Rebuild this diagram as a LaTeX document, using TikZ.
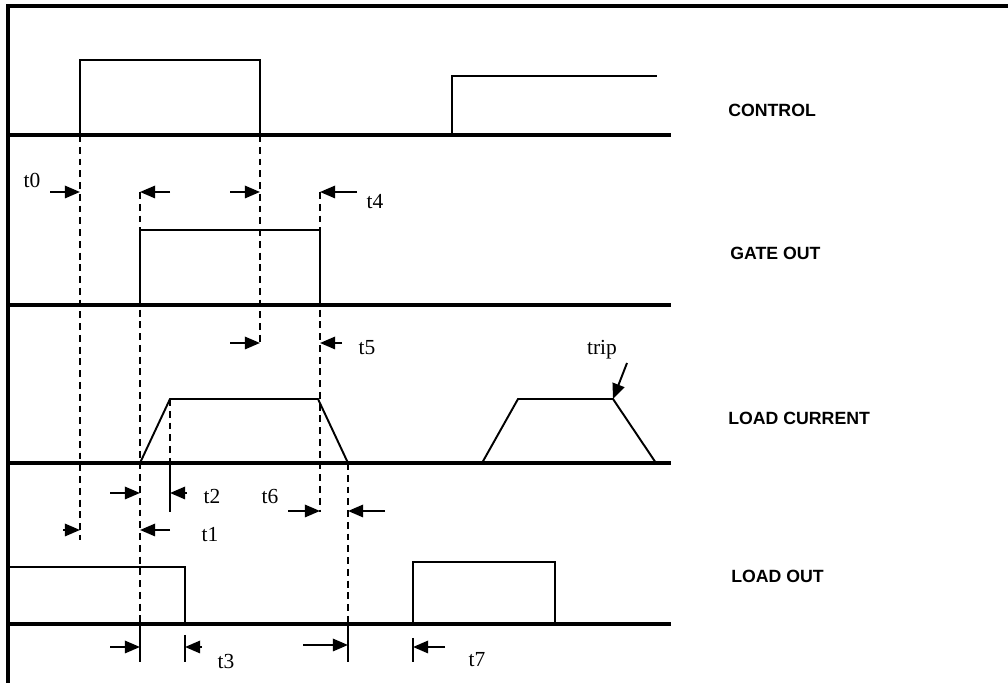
\documentclass[tikz,border=0pt]{standalone}
\usepackage{fontspec}
\setmainfont{Liberation Serif}
\newfontfamily\labelfont{Liberation Sans}
\usetikzlibrary{arrows.meta}

\begin{document}
\begin{tikzpicture}[x=1in,y=1in,
  base/.style={line width=2.8pt},
  sig/.style={line width=1.4pt, line join=miter},
  guide/.style={line width=1.2pt, dash pattern=on 5pt off 3.5pt},
  tick/.style={line width=1.4pt},
  dimarrow/.style={line width=1.4pt, -{Triangle[length=11pt,width=9pt]}},
  signame/.style={anchor=west, font=\labelfont\bfseries\fontsize{12.8}{14}\selectfont, inner sep=0pt},
  tname/.style={font=\fontsize{15.5}{17}\selectfont, inner sep=0pt}]
\useasboundingbox (0,0) rectangle (10.08,6.83);
\draw[line width=2.2pt] (0.0800,0) -- (0.0800,6.7700) -- (10.08,6.7700);
\draw[base] (0.0800,5.4800) -- (6.7100,5.4800);
\draw[base] (0.0800,3.7800) -- (6.7100,3.7800);
\draw[base] (0.0800,2.2000) -- (6.7100,2.2000);
\draw[base] (0.0800,0.5900) -- (6.7100,0.5900);
\draw[guide] (0.8000,5.4800) -- (0.8000,1.4300);
\draw[guide] (1.4000,4.9100) -- (1.4000,0.5900);
\draw[guide] (2.6000,5.4800) -- (2.6000,3.4000);
\draw[guide] (3.2000,4.9100) -- (3.2000,1.7100);
\draw[guide] (1.7000,2.8400) -- (1.7000,2.2000);
\draw[guide] (3.4800,2.2000) -- (3.4800,0.5900);
\draw[tick] (1.7000,2.2000) -- (1.7000,1.7100);
\draw[tick] (1.4000,0.5900) -- (1.4000,0.2100);
\draw[tick] (3.4800,0.5900) -- (3.4800,0.2100);
\draw[tick] (1.8500,0.4800) -- (1.8500,0.2100);
\draw[tick] (4.1300,0.4500) -- (4.1300,0.2100);
\draw[sig] (0.8000,5.4800) -- (0.8000,6.2300) -- (2.6000,6.2300) -- (2.6000,5.4800);
\draw[sig] (4.5200,5.4800) -- (4.5200,6.0700) -- (6.5700,6.0700);
\draw[sig] (1.4000,3.7800) -- (1.4000,4.5300) -- (3.2000,4.5300) -- (3.2000,3.7800);
\draw[sig] (1.4000,2.2000) -- (1.7000,2.8400) -- (3.1800,2.8400) -- (3.4800,2.2000);
\draw[sig] (4.8200,2.2000) -- (5.1800,2.8400) -- (6.1300,2.8400) -- (6.5600,2.2000);
\draw[sig] (0.0800,1.1600) -- (1.8500,1.1600) -- (1.8500,0.5900);
\draw[sig] (4.1300,0.5900) -- (4.1300,1.2100) -- (5.5500,1.2100) -- (5.5500,0.5900);
\draw[dimarrow] (0.5000,4.9100) -- (0.8000,4.9100);
\draw[dimarrow] (1.7000,4.9100) -- (1.4000,4.9100);
\draw[dimarrow] (2.3000,4.9100) -- (2.6000,4.9100);
\draw[dimarrow] (3.5700,4.9100) -- (3.2000,4.9100);
\draw[dimarrow] (2.3000,3.4000) -- (2.6000,3.4000);
\draw[dimarrow] (3.4200,3.4000) -- (3.2000,3.4000);
\draw[dimarrow] (1.1000,1.9000) -- (1.4000,1.9000);
\draw[dimarrow] (1.8700,1.9000) -- (1.7000,1.9000);
\draw[dimarrow] (2.8800,1.7200) -- (3.2000,1.7200);
\draw[dimarrow] (3.8500,1.7200) -- (3.4800,1.7200);
\draw[dimarrow] (0.6300,1.5300) -- (0.8000,1.5300);
\draw[dimarrow] (1.7000,1.5300) -- (1.4000,1.5300);
\draw[dimarrow] (1.1000,0.3600) -- (1.4000,0.3600);
\draw[dimarrow] (2.0200,0.3600) -- (1.8500,0.3600);
\draw[dimarrow] (3.0300,0.3800) -- (3.4800,0.3800);
\draw[dimarrow] (4.4500,0.3600) -- (4.1300,0.3600);
\draw[dimarrow] (6.2700,3.2000) -- (6.1300,2.8400);
\node[tname] (t0) at (0.3200,5.0300) {t0};
\node[tname] (t4) at (3.7500,4.8100) {t4};
\node[tname] (t5) at (3.6700,3.3500) {t5};
\node[tname] (t2) at (2.1200,1.8600) {t2};
\node[tname] (t6) at (2.7000,1.8600) {t6};
\node[tname] (t1) at (2.1000,1.4800) {t1};
\node[tname] (t3) at (2.2600,0.2100) {t3};
\node[tname] (t7) at (4.7700,0.2300) {t7};
\node[tname] (trip) at (6.0200,3.3300) {trip};
\node[signame] (control) at (7.2800,5.7300) {CONTROL};
\node[signame] (gateout) at (7.3000,4.3000) {GATE OUT};
\node[signame] (loadcur) at (7.2800,2.6500) {LOAD CURRENT};
\node[signame] (loadout) at (7.3100,1.0700) {LOAD OUT};
\end{tikzpicture}
\end{document}
